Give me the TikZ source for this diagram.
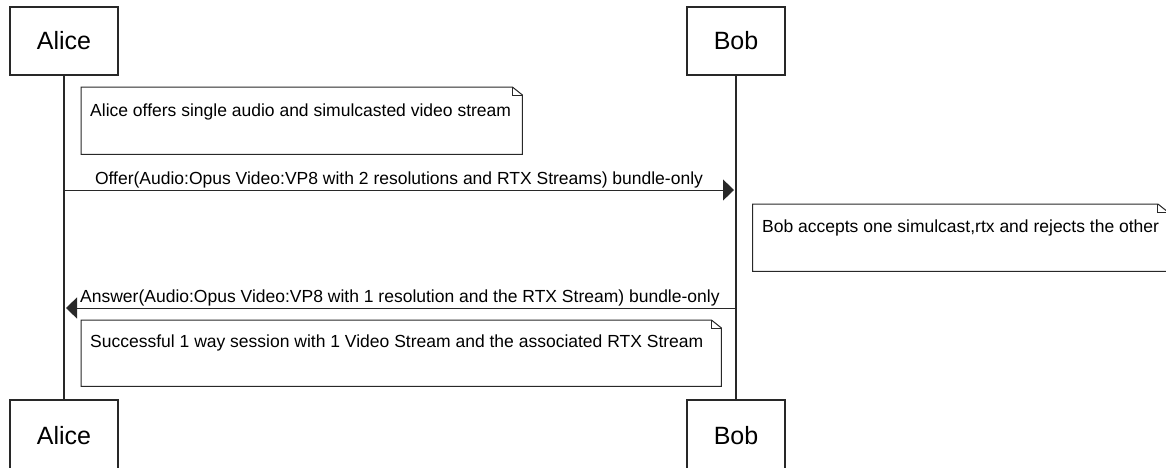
\documentclass[tikz,border=0pt]{standalone}
\usepackage{fontspec}
\setmainfont{Liberation Sans}
\usetikzlibrary{arrows.meta}
\definecolor{ink}{RGB}{40,40,40}
\begin{document}
\begin{tikzpicture}[x=1pt,y=-1pt,
  actor/.style={draw=ink, line width=1.2pt, inner sep=0pt, minimum height=68pt,
    font=\fontsize{25}{30}\selectfont, text=black},
  notebox/.style={draw=none, inner sep=0pt, anchor=north west},
  noteline/.style={draw=ink, line width=1pt},
  notetext/.style={anchor=base west, inner sep=0pt, font=\fontsize{17.5}{21}\selectfont, text=black},
  msgtext/.style={anchor=base, inner sep=0pt, font=\fontsize{17.5}{21}\selectfont, text=black},
  lifeline/.style={draw=ink, line width=1.2pt},
  msg/.style={draw=ink, line width=1pt, -{Triangle[length=11pt,width=21pt]}}
]
\useasboundingbox (0,0) rectangle (1166,467);

% actors
\node[actor, minimum width=108pt] (aliceTop) at (64,41) {Alice};
\node[actor, minimum width=98pt]  (bobTop)   at (736,41) {Bob};
\node[actor, minimum width=108pt, minimum height=72pt] (aliceBot) at (64,436) {Alice};
\node[actor, minimum width=98pt, minimum height=72pt]  (bobBot)   at (736,436) {Bob};

% lifelines
\draw[lifeline] (aliceTop.south) -- (aliceBot.north);
\draw[lifeline] (bobTop.south) -- (bobBot.north);

% note 1
\node[notebox, minimum width=441pt, minimum height=67pt] (n1) at (81,87) {};
\draw[noteline] (n1.north west) -- ([xshift=-10pt]n1.north east) -- ([yshift=-8pt]n1.north east) -- (n1.south east) -- (n1.south west) -- cycle;
\draw[noteline] ([xshift=-10pt]n1.north east) |- ([yshift=-8pt]n1.north east);
\node[notetext] (t1) at (90,116) {Alice offers single audio and simulcasted video stream};

% offer message
\coordinate (o1) at (64,190);
\coordinate (o2) at (734,190);
\draw[msg] (o1) -- (o2);
\node[msgtext] (m1) at (399,184) {Offer(Audio:Opus Video:VP8 with 2 resolutions and RTX Streams) bundle-only};

% note 2
\node[notebox, minimum width=415pt, minimum height=67pt] (n2) at (752.5,204) {};
\draw[noteline] (n2.north west) -- ([xshift=-10pt]n2.north east) -- ([yshift=-8pt]n2.north east) -- (n2.south east) -- (n2.south west) -- cycle;
\draw[noteline] ([xshift=-10pt]n2.north east) |- ([yshift=-8pt]n2.north east);
\node[notetext] (t2) at (762,232) {Bob accepts one simulcast,rtx and rejects the other};

% answer message
\coordinate (a1) at (736,308);
\coordinate (a2) at (66,308);
\draw[msg] (a1) -- (a2);
\node[msgtext, anchor=base west] (m2) at (80,302) {Answer(Audio:Opus Video:VP8 with 1 resolution and the RTX Stream) bundle-only};

% note 3
\node[notebox, minimum width=640pt, minimum height=66pt] (n3) at (81,320) {};
\draw[noteline] (n3.north west) -- ([xshift=-10pt]n3.north east) -- ([yshift=-8pt]n3.north east) -- (n3.south east) -- (n3.south west) -- cycle;
\draw[noteline] ([xshift=-10pt]n3.north east) |- ([yshift=-8pt]n3.north east);
\node[notetext] (t3) at (90,347) {Successful 1 way session with 1 Video Stream and the associated RTX Stream};
\end{tikzpicture}
\end{document}
